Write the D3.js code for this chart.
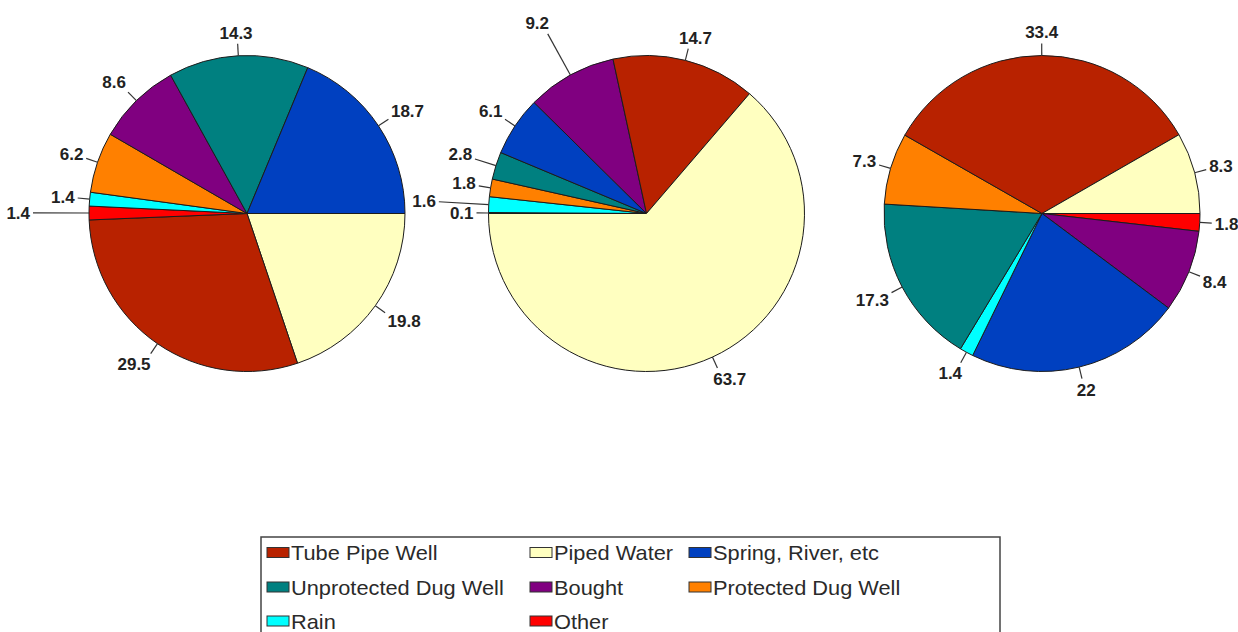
<!DOCTYPE html>
<html>
<head>
<meta charset="utf-8">
<script src="https://cdn.jsdelivr.net/npm/d3@7"></script>
<style>
  html, body { margin: 0; padding: 0; background: #fff; }
  svg { display: block; }
</style>
</head>
<body>
<svg id="chart" width="1238" height="632"></svg>
<script>
// Water source categories (legend order)
const categories = [
  "Tube Pipe Well", "Piped Water", "Spring, River, etc",
  "Unprotected Dug Well", "Bought", "Protected Dug Well",
  "Rain", "Other"
];

// Percentage share per category, one array per pie (same order as categories)
const pie1Values = [29.5, 19.8, 18.7, 14.3, 8.6, 6.2, 1.4, 1.4];
const pie2Values = [14.7, 63.7, 6.1, 2.8, 9.2, 1.8, 1.6, 0.1];
const pie3Values = [33.4, 8.3, 22, 17.3, 8.4, 7.3, 1.4, 1.8];

// Slice sequence (clockwise) for each pie
const pie1Order = ["Piped Water", "Tube Pipe Well", "Other", "Rain", "Protected Dug Well", "Bought", "Unprotected Dug Well", "Spring, River, etc"];
const pie2Order = ["Other", "Rain", "Protected Dug Well", "Unprotected Dug Well", "Spring, River, etc", "Bought", "Tube Pipe Well", "Piped Water"];
const pie3Order = ["Other", "Bought", "Spring, River, etc", "Rain", "Unprotected Dug Well", "Protected Dug Well", "Tube Pipe Well", "Piped Water"];

const palette = ["#b82200", "#ffffc0", "#0040c0", "#008080", "#800080", "#ff8000", "#00ffff", "#ff0000"];

// ---- layout ----
const W = 1238, H = 632;
const radius = 158;
const cy = 213.5;
const centersX = [247, 646.5, 1042];
const startAngles = [Math.PI / 2, Math.PI * 1.5, Math.PI / 2];
const defaultLeader = 12;
// longer leader lines where small slices crowd together
const leaderLen = [
  { "Other": 56 },
  { "Rain": 50, "Bought": 47, "Unprotected Dug Well": 22 },
  {}
];

const svg = d3.select("#chart");
const color = d3.scaleOrdinal(categories, palette);

const pies = [
  { values: pie1Values, order: pie1Order },
  { values: pie2Values, order: pie2Order },
  { values: pie3Values, order: pie3Order }
];

const arc = d3.arc().innerRadius(0).outerRadius(radius);
const clamp = v => Math.max(-1, Math.min(1, v));

pies.forEach((p, i) => {
  const rows = p.order.map(name => ({ name, value: p.values[categories.indexOf(name)] }));
  const layout = d3.pie()
    .sort(null)
    .value(d => d.value)
    .startAngle(startAngles[i])
    .endAngle(startAngles[i] + 2 * Math.PI);
  const arcs = layout(rows);

  const g = svg.append("g").attr("transform", `translate(${centersX[i]},${cy})`);

  g.selectAll("path.slice")
    .data(arcs)
    .join("path")
    .attr("class", "slice")
    .attr("d", arc)
    .attr("fill", d => color(d.data.name))
    .attr("stroke", "#1c1c1c")
    .attr("stroke-width", 1)
    .attr("stroke-linejoin", "round");

  // value labels with leader lines
  arcs.forEach(d => {
    const mid = (d.startAngle + d.endAngle) / 2 - Math.PI / 2;
    const c = Math.cos(mid), s = Math.sin(mid);
    const L = leaderLen[i][d.data.name] ?? defaultLeader;
    const x0 = radius * c, y0 = radius * s;
    const x1 = (radius + L) * c, y1 = (radius + L) * s;

    g.append("line")
      .attr("x1", x0).attr("y1", y0)
      .attr("x2", x1).attr("y2", y1)
      .attr("stroke", "#333")
      .attr("stroke-width", 1.2);

    const t = g.append("text")
      .text(String(d.data.value))
      .attr("font-family", "'Liberation Sans', Arial, sans-serif")
      .attr("font-weight", "bold")
      .attr("font-size", 17)
      .attr("fill", "#222")
      .attr("text-anchor", "middle");
    const w = t.node().getComputedTextLength();
    const h = 12.5;
    const tx = x1 + clamp(c * 1.6) * w / 2 + c * 3;
    const ty = y1 + clamp(s * 1.6) * h / 2 + s * 5;
    t.attr("x", tx).attr("y", ty + 6);
  });
});

// ---- legend ----
const legend = svg.append("g");
legend.append("rect")
  .attr("x", 261).attr("y", 537)
  .attr("width", 739).attr("height", 110)
  .attr("fill", "#fff")
  .attr("stroke", "#444")
  .attr("stroke-width", 1.5);

const colX = [267, 530, 689];
const rowY = [552.5, 587, 621];
categories.forEach((name, k) => {
  const col = k % 3, row = Math.floor(k / 3);
  legend.append("rect")
    .attr("x", colX[col]).attr("y", rowY[row] - 5)
    .attr("width", 22).attr("height", 10)
    .attr("fill", color(name))
    .attr("stroke", "#333")
    .attr("stroke-width", 1);
  legend.append("text")
    .attr("transform", `translate(${colX[col] + 24},${rowY[row] + 7.5}) scale(1.09,1)`)
    .attr("font-family", "'Liberation Sans', Arial, sans-serif")
    .attr("font-size", 20)
    .attr("fill", "#2a2a2a")
    .text(name);
});
</script>
</body>
</html>
